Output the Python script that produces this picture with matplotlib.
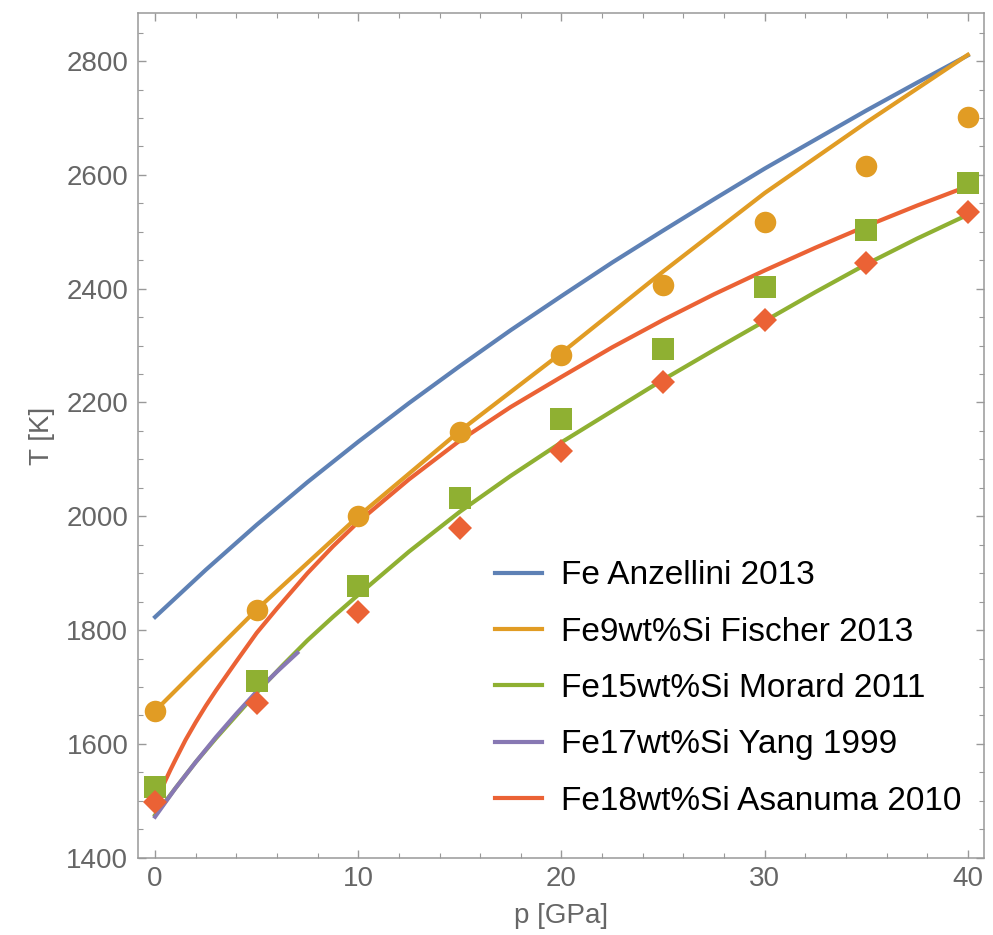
import matplotlib
matplotlib.use("Agg")
import matplotlib.pyplot as plt
from matplotlib.ticker import MultipleLocator

BLUE = "#5E81B5"; ORANGE = "#E19C24"; GREEN = "#8FB032"; PURPLE = "#8778B3"; RED = "#EB6235"
GREY = "#666666"; FRAME = "#999999"

# melting curves T(p)
p_anz = [0, 2.5, 5, 7.5, 10, 12.5, 15, 17.5, 20, 22.5, 25, 27.5, 30, 32.5, 35, 37.5, 40]
t_anz = [1823, 1906, 1985, 2060, 2131, 2199, 2264, 2327, 2387, 2446, 2502, 2557, 2611, 2662, 2713, 2762, 2810]

p_fis = [0, 5, 10, 15, 20, 25, 30, 35, 40]
t_fis = [1658, 1836, 2000, 2150, 2287, 2430, 2568, 2692, 2811]

p_mor = [0, 1, 2, 3, 4, 5, 6.25, 7.5, 8.75, 10, 12.5, 15, 17.5, 20, 22.5, 25, 27.5, 30, 32.5, 35, 37.5, 40]
t_mor = [1475, 1522, 1568, 1610, 1650, 1690, 1737, 1782, 1823, 1862, 1938, 2008, 2071, 2130, 2185, 2240,
         2292, 2343, 2394, 2443, 2488, 2530]

p_yan = [0, 1, 2, 3, 4, 5, 6, 7]
t_yan = [1472, 1522, 1568, 1612, 1653, 1692, 1727, 1760]

p_asa = [0, 0.25, 0.5, 0.75, 1, 1.5, 2, 2.5, 3, 4, 5, 6, 7.5, 8.75, 10, 12.5, 15, 17.5, 20, 22.5, 25, 27.5,
         30, 32.5, 35, 37.5, 40]
t_asa = [1490, 1514, 1535, 1554, 1572, 1607, 1638, 1667, 1694, 1745, 1795, 1838, 1900, 1947, 1990, 2065,
         2133, 2192, 2245, 2297, 2345, 2390, 2432, 2472, 2510, 2546, 2580]

# measured points
p_pts = [0, 5, 10, 15, 20, 25, 30, 35, 40]
t_circ = [1658, 1836, 2000, 2148, 2284, 2407, 2518, 2616, 2702]
t_sq = [1525, 1710, 1878, 2032, 2171, 2294, 2403, 2503, 2586]
t_dia = [1497, 1672, 1832, 1979, 2114, 2236, 2345, 2445, 2535]

labels = ["Fe Anzellini 2013", "Fe9wt%Si Fischer 2013", "Fe15wt%Si Morard 2011",
          "Fe17wt%Si Yang 1999", "Fe18wt%Si Asanuma 2010"]

plt.rcParams["font.family"] = ["Liberation Sans", "DejaVu Sans"]

fig = plt.figure(figsize=(9.93, 9.35), dpi=100)
ax = fig.add_axes([0.139, 0.0827, 0.852, 0.9031])

lw = 3.0
ax.plot(p_anz, t_anz, color=BLUE, lw=lw, label=labels[0], zorder=2)
ax.plot(p_fis, t_fis, color=ORANGE, lw=lw, label=labels[1], zorder=2)
ax.plot(p_mor, t_mor, color=GREEN, lw=lw, label=labels[2], zorder=2)
ax.plot(p_yan, t_yan, color=PURPLE, lw=lw, label=labels[3], zorder=2)
ax.plot(p_asa, t_asa, color=RED, lw=lw, label=labels[4], zorder=2)

ax.plot(p_pts, t_circ, "o", color=ORANGE, ms=15.5, mew=0, zorder=3)
ax.plot(p_pts, t_sq, "s", color=GREEN, ms=16, mew=0, zorder=3)
ax.plot(p_pts, t_dia, "D", color=RED, ms=12.5, mew=0, zorder=3)

ax.set_xlim(-0.84, 40.8)
ax.set_ylim(1400, 2884)
ax.xaxis.set_major_locator(MultipleLocator(10))
ax.xaxis.set_minor_locator(MultipleLocator(2))
ax.yaxis.set_major_locator(MultipleLocator(200))
ax.yaxis.set_minor_locator(MultipleLocator(50))

for s in ax.spines.values():
    s.set_color(FRAME)
    s.set_linewidth(1.1)
ax.tick_params(which="both", direction="in", top=True, right=True, color=FRAME,
               labelcolor=GREY, labelsize=20)
ax.tick_params(which="major", length=6, width=1)
ax.tick_params(which="minor", length=3.5, width=0.8)
ax.tick_params(axis="y", pad=7)
ax.tick_params(axis="x", pad=6)

ax.set_xlabel("p [GPa]", fontsize=20, color=GREY, labelpad=8)
ax.set_ylabel("T [K]", fontsize=20, color=GREY, labelpad=8)

ax.legend(loc="upper left", bbox_to_anchor=(0.422, 0.352), frameon=False, fontsize=24,
          handlelength=1.41, handletextpad=0.57, labelspacing=0.76, borderpad=0,
          borderaxespad=0)

fig.savefig("out.png", dpi=100)
